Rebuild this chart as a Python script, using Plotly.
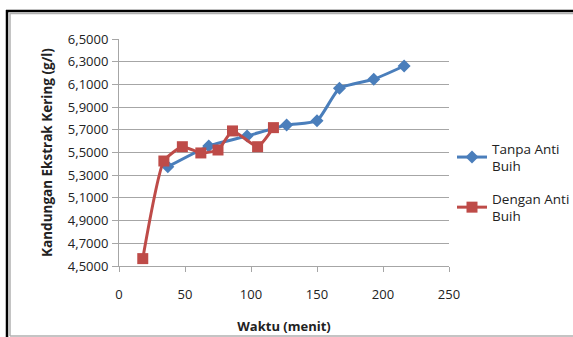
import plotly.graph_objects as go

# Drying time (minutes) and dry-extract content (g/l)
waktu_tanpa = [37, 68, 97, 127, 150, 167, 193, 216]
kering_tanpa = [5.375, 5.557, 5.645, 5.742, 5.780, 6.066, 6.145, 6.262]

waktu_dengan = [18, 34, 48, 62, 75, 86, 105, 117]
kering_dengan = [4.565, 5.425, 5.551, 5.496, 5.522, 5.690, 5.551, 5.719]

y_ticks = [4.5, 4.7, 4.9, 5.1, 5.3, 5.5, 5.7, 5.9, 6.1, 6.3, 6.5]
x_ticks = [0, 50, 100, 150, 200, 250]

W, H = 573, 337
L, R, T, B = 119, 124, 39, 71
FONT = "Open Sans, Liberation Sans, sans-serif"
TXT = "#222222"
GRID = "#a6a6a6"

fig = go.Figure()
fig.add_trace(go.Scatter(
    x=waktu_tanpa, y=kering_tanpa, mode="lines+markers",
    name="Tanpa Anti<br>Buih", legendgroup="a",
    line=dict(color="#4a7ebb", width=3, shape="spline", smoothing=0.5),
    marker=dict(symbol="diamond", size=10, color="#4a7ebb"),
))
fig.add_trace(go.Scatter(
    x=waktu_dengan, y=kering_dengan, mode="lines+markers",
    name="Dengan Anti<br>Buih", legendgroup="b",
    line=dict(color="#be4b48", width=3, shape="spline", smoothing=0.5),
    marker=dict(symbol="square", size=11, color="#be4b48"),
))

# paper-coordinate helpers for the chart frame
def px_x(p):
    return (p - L) / (W - L - R)

def px_y(p):
    return (H - B - p) / (H - T - B)

def seg(x0, y0, x1, y1, color, width):
    return dict(type="line", xref="paper", yref="paper", layer="above",
                x0=px_x(x0), x1=px_x(x1), y0=px_y(y0), y1=px_y(y1),
                line=dict(color=color, width=width))

frame = [
    seg(7, 10, 7, 337, "#000000", 2.5),
    seg(6, 11, 573, 11, "#000000", 2.5),
    seg(10, 13, 10, 336, "#b0b0b0", 1.5),
    seg(10, 13.5, 573, 13.5, "#b0b0b0", 1.5),
    seg(10, 336, 573, 336, "#b0b0b0", 1.5),
]

fig.update_layout(
    width=W, height=H,
    margin=dict(l=L, r=R, t=T, b=B, autoexpand=False),
    paper_bgcolor="white", plot_bgcolor="white",
    separators=", ",
    font=dict(family=FONT, size=13, color=TXT),
    shapes=frame,
    showlegend=True,
    legend=dict(
        x=px_x(452), y=px_y(133), xanchor="left", yanchor="top",
        font=dict(family=FONT, size=13.5, color=TXT),
        itemwidth=30, tracegroupgap=12, bgcolor="rgba(0,0,0,0)",
    ),
    xaxis=dict(
        range=[0, 250], tickvals=x_ticks, ticktext=[str(v) for v in x_ticks],
        showgrid=False, zeroline=False,
        showline=True, linecolor=GRID, linewidth=1,
        ticks="outside", ticklen=5, tickcolor=GRID,
        ticklabelstandoff=11,
        tickfont=dict(family=FONT, size=13, color=TXT),
        title=dict(text="<b>Waktu (menit)</b>", standoff=20,
                   font=dict(family=FONT, size=13, color=TXT)),
    ),
    yaxis=dict(
        range=[4.5, 6.5], tickvals=y_ticks, tickformat=".4f",
        showgrid=True, gridcolor=GRID, gridwidth=1, zeroline=False,
        showline=True, linecolor=GRID, linewidth=1,
        ticks="outside", ticklen=6, tickcolor=GRID,
        ticklabelstandoff=1,
        tickfont=dict(family=FONT, size=13, color=TXT),
        title=dict(text="<b>Kandungan Ekstrak Kering (g/l)</b>", standoff=12,
                   font=dict(family=FONT, size=13.5, color=TXT)),
    ),
)

fig.write_html("out.html")
